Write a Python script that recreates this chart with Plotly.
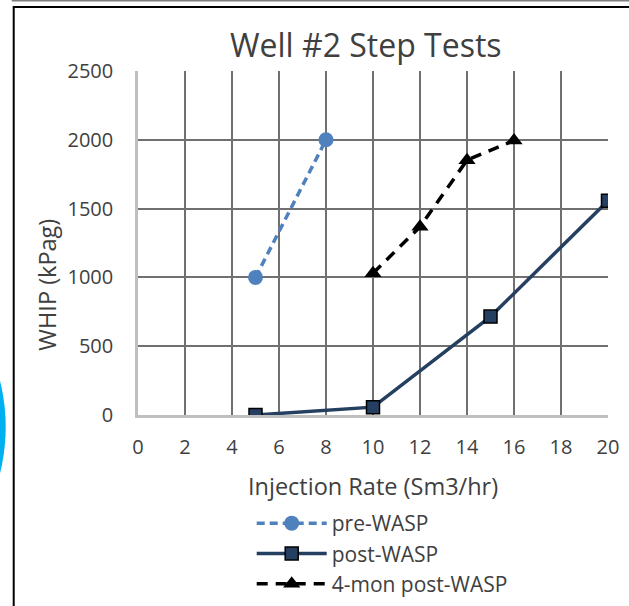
import plotly.graph_objects as go

# ---- data ----
pre_x = [5, 8]
pre_y = [1000, 2000]
post_x = [5, 10, 15, 20]
post_y = [0, 57, 715, 1557]
mon4_x = [10, 12, 14, 16]
mon4_y = [1030, 1368, 1852, 1995]

x_ticks = [0, 2, 4, 6, 8, 10, 12, 14, 16, 18, 20]
y_ticks = [0, 500, 1000, 1500, 2000, 2500]

title_text = "Well #2 Step Tests"
x_title = "Injection Rate (Sm3/hr)"
y_title = "WHIP (kPag)"

# ---- layout geometry (pixels) ----
FW, FH = 629, 606
L, R, T, B = 138.3, 608.3, 71, 415
PW, PH = R - L, B - T


def px(xp):
    return (xp - L) / PW


def py(yp):
    return (B - yp) / PH


FONT = "Open Sans"
TXT = "#404040"
GRID = "#707070"

fig = go.Figure()

fig.add_trace(go.Scatter(
    x=pre_x, y=pre_y, name="pre-WASP", mode="lines+markers",
    line=dict(color="#4f81bd", width=3.5, dash="8px,5px"),
    marker=dict(symbol="circle", size=15, color="#4f81bd"),
    legendgroup="a",
))
fig.add_trace(go.Scatter(
    x=post_x, y=post_y, name="post-WASP", mode="lines+markers",
    line=dict(color="#243f60", width=3.5),
    marker=dict(symbol="square", size=13, color="#243f60",
                line=dict(color="black", width=1.5)),
    legendgroup="b",
))
fig.add_trace(go.Scatter(
    x=mon4_x, y=mon4_y, name="4-mon post-WASP", mode="lines+markers",
    line=dict(color="black", width=3.5, dash="11px,8px"),
    marker=dict(symbol="triangle-up", size=15, color="black"),
    legendgroup="c",
))

shapes = [
    # cyan arc peeking in from the left
    dict(type="circle", xref="paper", yref="paper",
         x0=px(-376), x1=px(6), y0=py(618), y1=py(236),
         fillcolor="#00b0f0", line=dict(width=0), layer="above"),
    # thin gray line at very top
    dict(type="line", xref="paper", yref="paper",
         x0=px(12), x1=px(640), y0=py(0.7), y1=py(0.7),
         line=dict(color="#7f7f7f", width=1.5)),
    # black frame
    dict(type="rect", xref="paper", yref="paper",
         x0=px(14), x1=px(660), y0=py(7), y1=py(640),
         line=dict(color="black", width=2), fillcolor="rgba(0,0,0,0)"),
]

annotations = [
    dict(text=title_text, xref="paper", yref="paper", x=px(366), y=py(44),
         xanchor="center", yanchor="middle", showarrow=False,
         font=dict(family=FONT, size=32, color=TXT)),
    dict(text=x_title, xref="paper", yref="paper", x=px(373), y=py(486),
         xanchor="center", yanchor="middle", showarrow=False,
         font=dict(family=FONT, size=23.5, color=TXT)),
    dict(text=y_title, xref="paper", yref="paper", x=px(47), y=py(285),
         xanchor="center", yanchor="middle", showarrow=False, textangle=-90,
         font=dict(family=FONT, size=23.5, color=TXT)),
]

fig.update_layout(
    width=FW, height=FH,
    margin=dict(l=L, r=FW - R, t=T, b=FH - B, pad=0, autoexpand=False),
    paper_bgcolor="white", plot_bgcolor="white",
    font=dict(family=FONT, color=TXT),
    showlegend=True,
    legend=dict(x=px(252), y=py(503), xanchor="left", yanchor="top",
                font=dict(family=FONT, size=21, color=TXT),
                itemwidth=70, tracegroupgap=0, bgcolor="rgba(0,0,0,0)"),
    shapes=shapes,
    annotations=annotations,
)

fig.update_xaxes(
    range=[0, 20], tickvals=x_ticks, ticktext=[str(v) for v in x_ticks],
    showgrid=True, gridcolor=GRID, gridwidth=2, automargin=False,
    showline=True, linecolor="#bfbfbf", linewidth=2.5,
    zeroline=False, ticks="outside", ticklen=12, tickcolor="rgba(0,0,0,0)",
    tickfont=dict(family=FONT, size=20, color=TXT),
)
fig.update_yaxes(
    range=[0, 2500], tickvals=y_ticks, ticktext=[str(v) for v in y_ticks],
    showgrid=True, gridcolor=GRID, gridwidth=2, automargin=False,
    showline=True, linecolor="#bfbfbf", linewidth=2.5,
    zeroline=False, ticks="outside", ticklen=18, tickcolor="rgba(0,0,0,0)",
    tickfont=dict(family=FONT, size=20, color=TXT),
)

fig.write_html("out.html",
               config={"displayModeBar": False},
               post_script="document.body.style.margin='0';"
                           "document.body.style.overflow='hidden';")
